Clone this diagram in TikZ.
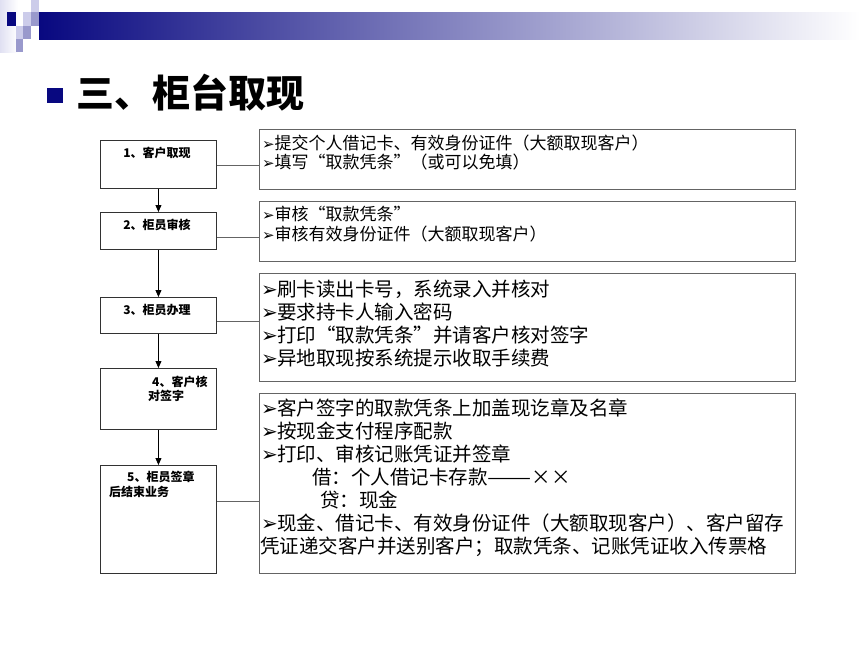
\documentclass[tikz,border=0pt]{standalone}
\usepackage{fontspec}
\usepackage{graphicx}
\setmainfont{Noto Sans CJK SC}
\newfontfamily\dejavu{DejaVu Sans}
\usetikzlibrary{arrows.meta}
\definecolor{navy}{RGB}{8,8,128}
\definecolor{lav}{RGB}{204,204,234}
\definecolor{midlav}{RGB}{153,153,204}
\definecolor{lbord}{RGB}{50,50,50}
\definecolor{rbord}{RGB}{100,100,100}
\newcommand\bulA{\makebox[12.5pt][l]{\dejavu\fontsize{15}{15}\selectfont ➢}}
\newcommand\bulB{\makebox[16pt][l]{\dejavu\fontsize{20}{20}\selectfont ➢}}
\begin{document}
\begin{tikzpicture}[x=1pt,y=-1pt,
  leftbox/.style={draw=lbord, line width=0.9pt, inner sep=0pt, anchor=north west},
  rightbox/.style={draw=rbord, line width=0.9pt, inner sep=0pt, anchor=north west},
  lefttext/.style={inner sep=0pt, font=\bfseries\fontsize{12}{14}\selectfont},
  smalltext/.style={inner sep=0pt, anchor=base west, font=\fontsize{17}{19}\selectfont},
  bigtext/.style={inner sep=0pt, anchor=base west, font=\fontsize{19.5}{23}\selectfont},
  flowarrow/.style={draw=black, line width=0.8pt, -{Triangle[width=6pt,length=7pt]}},
  conn/.style={draw=rbord, line width=0.9pt}]
\useasboundingbox (0,0) rectangle (860,645);
\fill[white] (0,0) rectangle (860,645);
% header decoration
\shade[left color=lav!60, right color=white] (0,0) rectangle (18,52);
\shade[left color=navy, middle color=navy!18, right color=white] (39,12) rectangle (860,39);
\fill[navy] (7,12) rectangle (16,26);
\fill[lav] (23,12) rectangle (31,26);
\fill[lav] (31,0) rectangle (39,12);
\fill[midlav] (31,12) rectangle (39,26);
\fill[lav] (16,26) rectangle (23,39);
\fill[midlav] (23,26) rectangle (31,39);
\fill[midlav] (16,39) rectangle (23,52);
% title
\fill[navy] (47,88) rectangle (63,103);
\node[inner sep=0pt, anchor=base west, font=\bfseries\fontsize{38}{40}\selectfont] (title) at (76,107) {三、柜台取现};
% left boxes
\node[leftbox, minimum width=116pt, minimum height=48pt] (b1) at (100,140) {};
\node[leftbox, minimum width=116pt, minimum height=37pt] (b2) at (100,212) {};
\node[leftbox, minimum width=116pt, minimum height=36pt] (b3) at (100,297) {};
\node[leftbox, minimum width=116pt, minimum height=61pt] (b4) at (100,368) {};
\node[leftbox, minimum width=116pt, minimum height=108pt] (b5) at (100,465) {};
\node[lefttext, anchor=base] (t1) at (157,157.5) {1、客户取现};
\node[lefttext, anchor=base] (t2) at (157,229.5) {2、柜员审核};
\node[lefttext, anchor=base] (t3) at (157,314.5) {3、柜员办理};
\node[lefttext, anchor=base west] (t4a) at (152,386.5) {4、客户核};
\node[lefttext, anchor=base west] (t4b) at (148,400) {对签字};
\node[lefttext, anchor=base west] (t5a) at (127,481.5) {5、柜员签章};
\node[lefttext, anchor=base west] (t5b) at (109,496.5) {后结束业务};
% arrows
\draw[flowarrow] (b1.south) -- (b2.north);
\draw[flowarrow] (b2.south) -- (b3.north);
\draw[flowarrow] (b3.south) -- (b4.north);
\draw[flowarrow] (b4.south) -- (b5.north);
% right boxes
\node[rightbox, minimum width=536pt, minimum height=60pt] (r1) at (259,129) {};
\node[rightbox, minimum width=536pt, minimum height=60pt] (r2) at (259,201) {};
\node[rightbox, minimum width=536pt, minimum height=108pt] (r3) at (259,273) {};
\node[rightbox, minimum width=536pt, minimum height=180pt] (r4) at (259,393) {};
% connectors
\draw[conn] (b1.east |- 0,165) -- (r1.west |- 0,165);
\draw[conn] (b2.east |- 0,237) -- (r2.west |- 0,237);
\draw[conn] (b3.east |- 0,321) -- (r3.west |- 0,321);
\draw[conn] (b5.east |- 0,501) -- (r4.west |- 0,501);
% right texts
\node[smalltext] (r1a) at (262,149) {\bulA 提交个人借记卡、有效身份证件（大额取现客户）};
\node[smalltext] (r1b) at (262,168) {\bulA 填写“取款凭条”（或可以免填）};
\node[smalltext] (r2a) at (262,220) {\bulA 审核“取款凭条”};
\node[smalltext] (r2b) at (262,240) {\bulA 审核有效身份证件（大额取现客户）};
\node[bigtext] (r3a) at (261,296.5) {\bulB 刷卡读出卡号，系统录入并核对};
\node[bigtext] (r3b) at (261,319.5) {\bulB 要求持卡人输入密码};
\node[bigtext] (r3c) at (261,342.5) {\bulB 打印“取款凭条”并请客户核对签字};
\node[bigtext] (r3d) at (261,365.5) {\bulB 异地取现按系统提示收取手续费};
\node[bigtext] (r4a) at (261,415.5) {\bulB 客户签字的取款凭条上加盖现讫章及名章};
\node[bigtext] (r4b) at (261,438.5) {\bulB 按现金支付程序配款};
\node[bigtext] (r4c) at (261,461.5) {\bulB 打印、审核记账凭证并签章};
\node[bigtext] (r4d) at (312,484.5) {借：个人借记卡存款\scalebox{1.35}[1]{——}××};
\node[bigtext] (r4e) at (320,507.5) {贷：现金};
\node[bigtext] (r4f) at (261,530.5) {\bulB 现金、借记卡、有效身份证件（大额取现客户）、客户留存};
\node[bigtext] (r4g) at (260,553.5) {凭证递交客户并送别客户；取款凭条、记账凭证收入传票格};
\end{tikzpicture}
\end{document}
